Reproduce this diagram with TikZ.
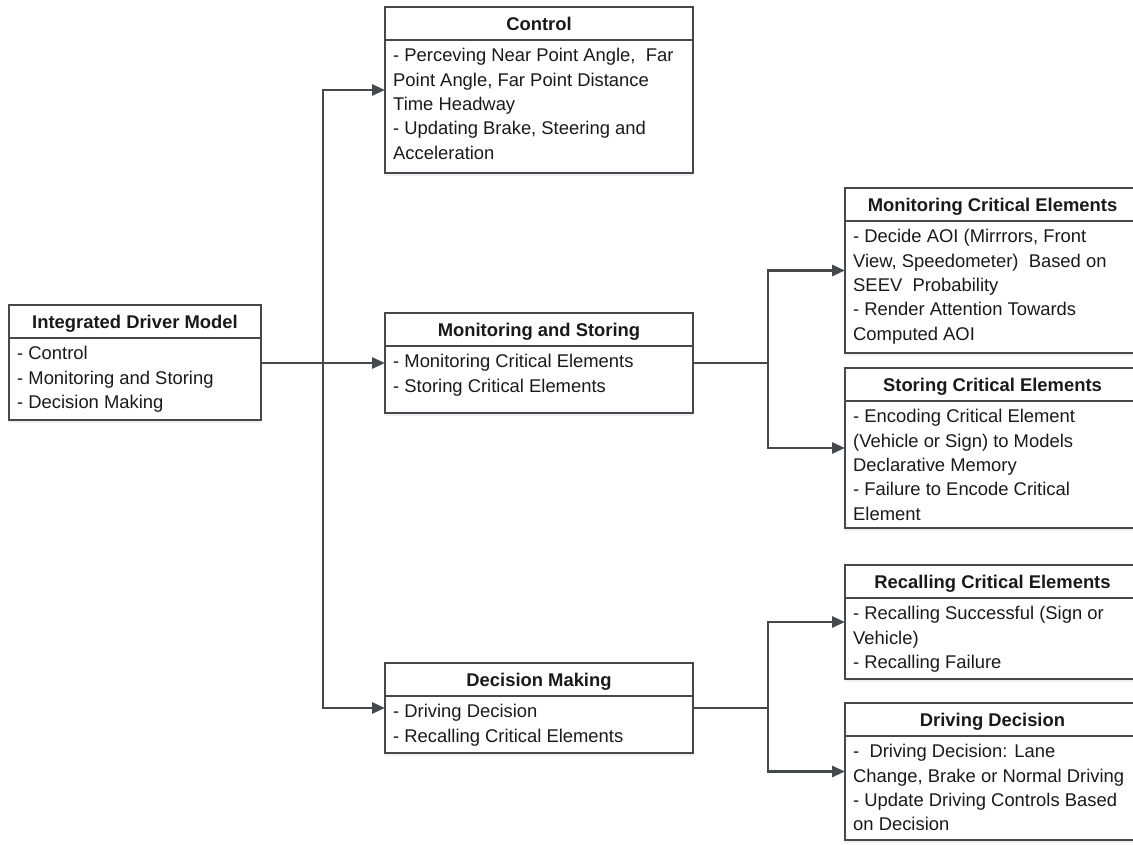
\documentclass[tikz,border=0pt]{standalone}
\usepackage{fontspec}
\setmainfont{Liberation Sans}
\usetikzlibrary{arrows.meta,shadows}
\definecolor{lc}{HTML}{45484D}
\definecolor{tc}{HTML}{1A1A1A}
\newcommand\mkbox[7]{%
  \node[box, minimum width=#4, minimum height=#5, anchor=north west] (#1) at (#2,#3) {};
  \draw[boxline] ([yshift=-33pt]#1.north west) -- ([yshift=-33pt]#1.north east);
  \node[ttl] (#1-t) at ([yshift=-16.5pt]#1.north) {#6};
  \node[bdy] (#1-b) at ([xshift=8pt,yshift=-38.6pt]#1.north west) {\rule{0pt}{16pt}#7};
}
\begin{document}
\begin{tikzpicture}[x=1pt,y=-1pt,
  box/.style={draw=lc, line width=2.8pt, fill=white, inner sep=0pt, outer sep=0pt,
    drop shadow={opacity=0.12, shadow xshift=0pt, shadow yshift=-2.5pt}},
  boxline/.style={draw=lc, line width=2.8pt},
  ttl/.style={inner sep=0pt, text height=13.2pt, text depth=0pt, text=tc,
    font=\fontsize{18.4}{24.3}\selectfont\bfseries},
  bdy/.style={inner sep=0pt, anchor=north west, align=left, text=tc,
    font=\fontsize{18.4}{24.3}\selectfont},
  conn/.style={draw=lc, line width=2.8pt},
  arr/.style={conn, -{Triangle[length=13pt,width=11pt]}}]
\useasboundingbox (0,0) rectangle (1133,844);
\fill[white] (0,0) rectangle (1133,844);
\clip (0,0) rectangle (1133,844);

\mkbox{idm}{9}{305}{252}{115}{Integrated Driver Model}{- Control\\- Monitoring and Storing\\- Decision Making}
\mkbox{ctl}{385}{7}{308}{166}{Control}{- Perceving Near Point Angle,\ \ Far\\Point Angle, Far Point Distance\\Time Headway\\- Updating Brake, Steering and\\Acceleration}
\mkbox{ms}{385}{313}{308}{100}{Monitoring and Storing}{- Monitoring Critical Elements\\- Storing Critical Elements}
\mkbox{dm}{385}{663}{308}{90}{Decision Making}{- Driving Decision\\- Recalling Critical Elements}
\mkbox{mce}{845}{188}{295}{165}{Monitoring Critical Elements}{- Decide AOI (Mirrrors, Front\\View, Speedometer)\ \ Based on\\SEEV\ \ Probability\\- Render Attention Towards\\Computed AOI}
\mkbox{sce}{845}{368}{295}{160}{Storing Critical Elements}{- Encoding Critical Element\\(Vehicle or Sign) to Models\\Declarative Memory\\- Failure to Encode Critical\\Element}
\mkbox{rce}{845}{565}{295}{114}{Recalling Critical Elements}{- Recalling Successful (Sign or\\Vehicle)\\- Recalling Failure}
\mkbox{dd}{845}{703}{295}{137}{Driving Decision}{-\ \ Driving Decision: Lane\\Change, Brake or Normal Driving\\- Update Driving Controls Based\\on Decision}

\coordinate (j1) at (ms.west -| 323,0);
\coordinate (j2) at (ms.east -| 768,0);
\coordinate (j3) at (dm.east -| 768,0);

\draw[arr] (idm.east |- ms.west) -- (ms.west);
\draw[arr] (j1) |- (ctl.west);
\draw[arr] (j1) |- (dm.west);
\draw[conn] (ms.east) -- (j2);
\draw[arr] (j2) |- (mce.west);
\draw[arr] (j2) |- (sce.west);
\draw[conn] (dm.east) -- (j3);
\draw[arr] (j3) |- (rce.west);
\draw[arr] (j3) |- (dd.west);
\end{tikzpicture}
\end{document}
